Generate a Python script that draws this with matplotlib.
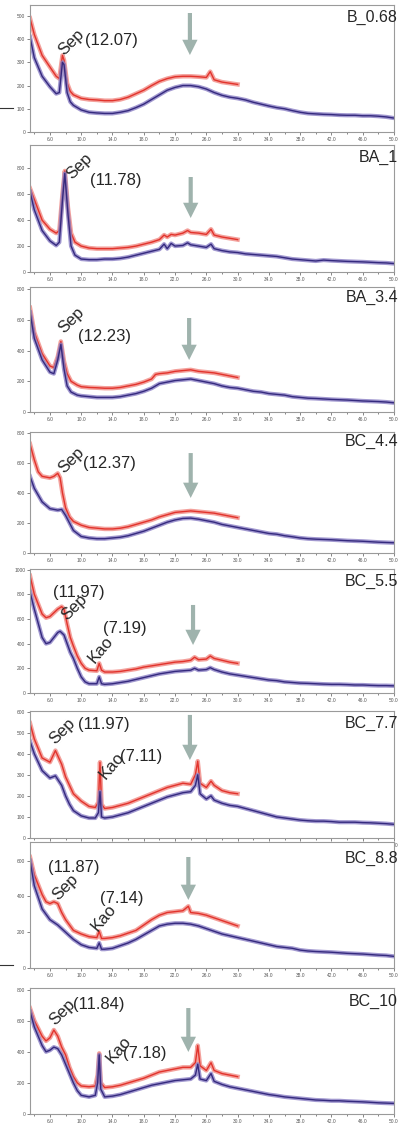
import matplotlib
matplotlib.use('Agg')
import matplotlib.pyplot as plt
from matplotlib.lines import Line2D

plt.rcParams['font.family'] = ['Liberation Sans', 'DejaVu Sans']

# ------------------------------------------------------------------
# data (2theta in degrees, counts)
# ------------------------------------------------------------------
names = ['B_0.68', 'BA_1', 'BA_3.4', 'BC_4.4', 'BC_5.5', 'BC_7.7', 'BC_8.8', 'BC_10']

# B_0.68
p1_red_x = [3.45, 4, 5, 6, 6.8, 7.2, 7.6, 7.8, 8.2, 8.6, 9, 10, 11, 12, 13, 14, 15, 16, 17, 18, 19, 20,
            21, 22, 23, 24, 25, 26, 26.5, 27, 28, 29, 30]
p1_red_y = [490, 420, 330, 280, 240, 230, 330, 310, 210, 175, 160, 145, 140, 138, 135, 135, 140, 150, 165,
            180, 200, 218, 230, 238, 240, 240, 238, 235, 260, 225, 215, 210, 205]
p1_blue_x = [3.45, 4, 5, 6, 6.8, 7.2, 7.6, 7.8, 8.2, 8.6, 9, 10, 11, 12, 13, 14, 15, 16, 17, 18, 19, 20,
             21, 22, 23, 24, 25, 26, 27, 28, 29, 30, 31, 32, 33, 34, 35, 36, 37, 38, 39, 40, 41, 42, 43,
             44, 45, 46, 47, 48, 49, 50]
p1_blue_y = [410, 320, 240, 195, 165, 170, 300, 290, 170, 130, 115, 95, 85, 82, 80, 80, 85, 92, 105, 120,
             140, 160, 180, 192, 200, 200, 195, 185, 170, 158, 150, 145, 138, 128, 120, 112, 105, 100, 92,
             85, 80, 78, 76, 75, 73, 72, 72, 70, 70, 68, 65, 60]

# BA_1
p2_red_x = [3.45, 4, 5, 6, 6.8, 7.2, 7.6, 7.9, 8.3, 8.7, 9.2, 10, 11, 12, 13, 14, 15, 16, 17, 18, 19, 20,
            20.6, 21, 21.5, 22, 23, 23.6, 24, 25, 26, 26.6, 27, 28, 29, 30]
p2_red_y = [645, 560, 400, 330, 300, 320, 600, 780, 500, 300, 230, 200, 185, 180, 180, 180, 185, 190, 200,
            215, 230, 250, 285, 270, 290, 285, 300, 320, 305, 300, 290, 330, 285, 270, 260, 250]
p2_blue_x = [3.45, 4, 5, 6, 6.8, 7.2, 7.6, 7.9, 8.3, 8.7, 9.2, 10, 11, 12, 13, 14, 15, 16, 17, 18, 19, 20,
             20.6, 21, 21.5, 22, 23, 23.6, 24, 25, 26, 26.6, 27, 28, 29, 30, 31, 32, 33, 34, 35, 36, 37,
             38, 39, 40, 41, 42, 43, 44, 45, 46, 47, 48, 49, 50]
p2_blue_y = [620, 480, 320, 240, 205, 230, 550, 760, 450, 200, 130, 100, 95, 95, 100, 100, 105, 115, 130,
             145, 160, 175, 215, 180, 220, 200, 205, 225, 210, 200, 190, 215, 180, 165, 155, 150, 140, 135,
             130, 125, 120, 110, 100, 95, 90, 85, 92, 88, 85, 82, 80, 78, 75, 72, 70, 65]

# BA_3.4
p3_red_x = [3.45, 4, 5, 6, 6.5, 7, 7.4, 7.8, 8.2, 8.7, 9.5, 10, 11, 12, 13, 14, 15, 16, 17, 18, 19, 19.5,
            20, 21, 22, 23, 24, 25, 26, 27, 28, 29, 30]
p3_red_y = [680, 520, 380, 300, 290, 360, 460, 330, 250, 200, 175, 165, 160, 158, 155, 155, 160, 170, 180,
            195, 215, 245, 250, 255, 265, 270, 275, 265, 260, 255, 245, 235, 225]
p3_blue_x = [3.45, 4, 5, 6, 6.5, 7, 7.4, 7.8, 8.2, 8.7, 9.5, 10, 11, 12, 13, 14, 15, 16, 17, 18, 19, 20,
             21, 22, 23, 24, 25, 26, 27, 28, 29, 30, 31, 32, 33, 34, 35, 36, 37, 38, 39, 40, 41, 42, 43,
             44, 45, 46, 47, 48, 49, 50]
p3_blue_y = [650, 480, 340, 260, 250, 340, 440, 280, 170, 130, 110, 105, 100, 95, 95, 95, 100, 110, 120,
             135, 155, 185, 195, 205, 210, 215, 205, 195, 185, 170, 160, 155, 145, 135, 130, 120, 115, 110,
             100, 95, 90, 88, 85, 82, 80, 78, 75, 72, 70, 68, 65, 60]

# BC_4.4
p4_red_x = [3.45, 4, 4.5, 5, 6, 6.5, 7, 7.3, 7.6, 8, 8.5, 9, 10, 11, 12, 13, 14, 15, 16, 17, 18, 19, 20,
            21, 22, 23, 24, 25, 26, 27, 28, 29, 30]
p4_red_y = [725, 620, 540, 510, 500, 510, 530, 500, 400, 300, 240, 210, 185, 170, 165, 160, 160, 165, 175,
            190, 205, 220, 240, 255, 270, 275, 280, 275, 270, 265, 255, 245, 235]
p4_blue_x = [3.45, 4, 5, 6, 7, 7.5, 8, 8.5, 9, 10, 11, 12, 13, 14, 15, 16, 17, 18, 19, 20, 21, 22, 23, 24,
             25, 26, 27, 28, 29, 30, 31, 32, 33, 34, 35, 36, 37, 38, 39, 40, 41, 42, 43, 44, 45, 46, 47,
             48, 49, 50]
p4_blue_y = [510, 430, 340, 295, 285, 290, 250, 200, 150, 110, 100, 95, 95, 100, 105, 115, 130, 145, 165,
             185, 205, 220, 230, 232, 225, 215, 205, 190, 180, 170, 160, 150, 140, 130, 125, 115, 108, 100,
             95, 92, 90, 88, 85, 82, 80, 78, 75, 72, 70, 68]

# BC_5.5
p5_red_x = [3.45, 4, 5, 5.5, 6, 6.5, 7, 7.5, 7.8, 8.2, 8.6, 9, 9.5, 10, 10.5, 11, 12, 12.3, 12.6, 13, 14,
            15, 16, 17, 18, 19, 20, 21, 22, 23, 24, 24.5, 25, 26, 26.5, 27, 28, 29, 30]
p5_red_y = [950, 800, 640, 610, 620, 650, 680, 700, 680, 560, 450, 380, 300, 240, 200, 185, 180, 240, 185,
            170, 170, 175, 185, 195, 210, 220, 230, 240, 250, 255, 265, 290, 270, 275, 300, 280, 265, 250,
            240]
p5_blue_x = [3.45, 4, 5, 5.5, 6, 6.5, 7, 7.3, 7.8, 8.2, 8.6, 9, 9.5, 10, 10.5, 11, 12, 12.3, 12.6, 13, 14,
             15, 16, 17, 18, 19, 20, 21, 22, 23, 24, 24.5, 25, 26, 26.5, 27, 28, 29, 30, 31, 32, 33, 34,
             35, 36, 37, 38, 39, 40, 41, 42, 43, 44, 45, 46, 47, 48, 49, 50]
p5_blue_y = [820, 680, 450, 400, 410, 450, 490, 500, 470, 400, 330, 280, 200, 130, 90, 75, 75, 130, 75, 70,
             75, 85, 95, 110, 125, 140, 155, 165, 175, 180, 185, 200, 185, 190, 205, 190, 170, 155, 145,
             135, 125, 115, 105, 100, 90, 85, 80, 78, 75, 72, 70, 70, 68, 65, 65, 62, 60, 60, 58]

# BC_7.7
p6_red_x = [3.45, 4, 5, 6, 6.7, 7.5, 8, 8.5, 9, 10, 11, 11.8, 12.2, 12.4, 12.6, 13, 14, 15, 16, 17, 18,
            19, 20, 21, 22, 23, 24, 24.6, 24.9, 25.2, 26, 26.6, 27, 28, 29, 30]
p6_red_y = [545, 470, 380, 360, 415, 350, 290, 250, 210, 175, 150, 145, 170, 360, 160, 140, 145, 155, 165,
            180, 195, 210, 225, 240, 250, 260, 255, 300, 365, 260, 240, 270, 250, 225, 215, 210]
p6_blue_x = [3.45, 4, 5, 6, 6.7, 7.5, 8, 8.5, 9, 10, 11, 11.8, 12.2, 12.4, 12.6, 13, 14, 15, 16, 17, 18,
             19, 20, 21, 22, 23, 24, 24.6, 24.9, 25.2, 26, 26.6, 27, 28, 29, 30, 31, 32, 33, 34, 35, 36,
             37, 38, 39, 40, 41, 42, 43, 44, 45, 46, 47, 48, 49, 50]
p6_blue_y = [460, 400, 320, 285, 295, 250, 200, 160, 130, 105, 95, 95, 120, 220, 100, 95, 100, 110, 120,
             135, 150, 165, 180, 195, 205, 215, 220, 250, 300, 210, 185, 200, 180, 165, 155, 150, 140, 130,
             120, 110, 100, 95, 90, 85, 82, 80, 80, 78, 75, 75, 75, 73, 72, 70, 68, 65]

# BC_8.8
p7_red_x = [3.45, 4, 5, 5.5, 6, 6.5, 7, 7.5, 8, 8.5, 9, 10, 11, 12, 12.3, 12.6, 13, 14, 15, 16, 17, 18,
            19, 20, 21, 22, 23, 23.7, 24, 25, 26, 27, 28, 29, 30]
p7_red_y = [620, 520, 410, 370, 360, 370, 360, 310, 270, 240, 210, 190, 175, 170, 205, 165, 165, 170, 180,
            195, 210, 240, 270, 295, 310, 315, 320, 345, 310, 305, 295, 280, 265, 250, 235]
p7_blue_x = [3.45, 4, 5, 6, 7, 8, 9, 10, 11, 12, 12.3, 12.6, 13, 14, 15, 16, 17, 18, 19, 20, 21, 22, 23,
             24, 25, 26, 27, 28, 29, 30, 31, 32, 33, 34, 35, 36, 37, 38, 39, 40, 41, 42, 43, 44, 45, 46,
             47, 48, 49, 50]
p7_blue_y = [600, 460, 330, 270, 240, 200, 160, 130, 115, 110, 140, 105, 105, 110, 125, 140, 160, 185, 210,
             235, 245, 250, 250, 245, 235, 220, 205, 190, 180, 170, 160, 150, 140, 130, 120, 115, 110, 100,
             95, 92, 90, 88, 85, 82, 80, 78, 75, 72, 70, 65]

# BC_10
p8_red_x = [3.45, 4, 5, 5.5, 6, 6.5, 7, 7.5, 8, 8.5, 9, 9.5, 10, 11, 11.8, 12.1, 12.3, 12.5, 13, 14, 15,
            16, 17, 18, 19, 20, 21, 22, 23, 24, 24.6, 24.9, 25.2, 26, 26.6, 27, 28, 29, 30]
p8_red_y = [680, 600, 500, 470, 490, 540, 500, 430, 380, 300, 240, 200, 180, 175, 180, 250, 390, 200, 170,
            175, 185, 200, 215, 230, 250, 270, 280, 290, 300, 300, 330, 440, 310, 280, 330, 280, 260, 250,
            240]
p8_blue_x = [3.45, 4, 5, 5.5, 6, 6.5, 7, 7.5, 8, 8.5, 9, 9.5, 10, 11, 11.8, 12.1, 12.3, 12.5, 13, 14, 15,
             16, 17, 18, 19, 20, 21, 22, 23, 24, 24.6, 24.9, 25.2, 26, 26.6, 27, 28, 29, 30, 31, 32, 33,
             34, 35, 36, 37, 38, 39, 40, 41, 42, 43, 44, 45, 46, 47, 48, 49, 50]
p8_blue_y = [660, 560, 440, 400, 410, 430, 420, 380, 320, 260, 200, 150, 120, 110, 120, 200, 380, 160, 110,
             115, 125, 140, 155, 170, 185, 195, 205, 215, 220, 225, 250, 320, 225, 215, 260, 210, 190, 175,
             165, 155, 145, 135, 125, 118, 110, 105, 100, 95, 90, 88, 85, 85, 82, 80, 78, 75, 72, 70, 68]

red_x = [p1_red_x, p2_red_x, p3_red_x, p4_red_x, p5_red_x, p6_red_x, p7_red_x, p8_red_x]
red_y = [p1_red_y, p2_red_y, p3_red_y, p4_red_y, p5_red_y, p6_red_y, p7_red_y, p8_red_y]
blue_x = [p1_blue_x, p2_blue_x, p3_blue_x, p4_blue_x, p5_blue_x, p6_blue_x, p7_blue_x, p8_blue_x]
blue_y = [p1_blue_y, p2_blue_y, p3_blue_y, p4_blue_y, p5_blue_y, p6_blue_y, p7_blue_y, p8_blue_y]

# y axis range and tick step per panel
y_max = [547, 980, 815, 805, 1005, 603, 704, 810]
y_step = [100, 200, 200, 200, 200, 100, 200, 200]

# arrow x (2theta)
arrow_x = [23.9, 24.0, 23.8, 24.0, 24.3, 23.9, 23.7, 23.7]

# d-spacings written next to the peaks
sep_d = ['(12.07)', '(11.78)', '(12.23)', '(12.37)', '(11.97)', '(11.97)', '(11.87)', '(11.84)']
kao_d = [None, None, None, None, '(7.19)', '(7.11)', '(7.14)', '(7.18)']

# ------------------------------------------------------------------
# layout (pixel boxes of each panel in the 409x1126 picture)
# ------------------------------------------------------------------
W, H = 409, 1126
boxes = [(5, 132), (145, 272), (287, 412), (432, 553), (569, 693), (711, 838), (842, 968), (988, 1114)]
arrow_fy = [(0.937, 0.606), (0.748, 0.425), (0.752, 0.416), (0.826, 0.455),
            (0.710, 0.387), (0.969, 0.614), (0.881, 0.540), (0.841, 0.492)]
name_fy = [0.90, 0.905, 0.92, 0.92, 0.90, 0.905, 0.87, 0.89]
sep_pos = [(0.115, 0.71), (0.135, 0.83), (0.115, 0.73), (0.113, 0.77),
           (0.121, 0.69), (0.090, 0.84), (0.096, 0.64), (0.088, 0.81)]
sepd_pos = [(0.151, 0.72), (0.165, 0.72), (0.132, 0.60), (0.146, 0.74),
            (0.063, 0.81), (0.132, 0.895), (0.050, 0.80), (0.118, 0.87)]
kao_pos = [None, None, None, None, (0.195, 0.35), (0.225, 0.57), (0.203, 0.40), (0.245, 0.51)]
kaod_pos = [None, None, None, None, (0.200, 0.52), (0.247, 0.645), (0.192, 0.55), (0.256, 0.48)]

red_c = '#e2332c'
blue_c = '#352a7e'
arrow_c = '#9fb3ad'
frame_c = '#9a9a9a'
txt_c = '#262626'

fig = plt.figure(figsize=(W / 100, H / 100), dpi=100)

for i in range(8):
    top, bot = boxes[i]
    ax = fig.add_axes([30 / W, (H - bot) / H, 364 / W, (bot - top) / H])

    # noisy band look: light wide line under a thin core
    ax.plot(red_x[i], red_y[i], color='#f08a84', lw=3.2, alpha=0.8, solid_joinstyle='round')
    ax.plot(red_x[i], red_y[i], color=red_c, lw=1.0)
    ax.plot(blue_x[i], blue_y[i], color='#8a7fc4', lw=3.0, alpha=0.8, solid_joinstyle='round')
    ax.plot(blue_x[i], blue_y[i], color=blue_c, lw=1.0)

    ax.set_xlim(3.45, 50)
    ax.set_ylim(0, y_max[i])
    ax.set_xticks([6, 10, 14, 18, 22, 26, 30, 34, 38, 42, 46, 50])
    ax.set_xticklabels(['%.1f' % v for v in [6, 10, 14, 18, 22, 26, 30, 34, 38, 42, 46, 50]])
    ax.set_xticks([4, 8, 12, 16, 20, 24, 28, 32, 36, 40, 44, 48], minor=True)
    yt = list(range(0, y_max[i] + 1, y_step[i]))
    ax.set_yticks(yt)
    ax.set_yticklabels([str(v) for v in yt])
    ax.tick_params(which='both', labelsize=3.5, colors='#555555', length=2, width=0.5, pad=1.5)
    ax.tick_params(which='minor', length=1.5)
    for s in ax.spines.values():
        s.set_color(frame_c)
        s.set_linewidth(0.8)

    # sample name
    ax.text(1.011, name_fy[i], names[i], transform=ax.transAxes, ha='right', va='center',
            fontsize=11.5, color=txt_c)

    # sepiolite label
    ax.text(sep_pos[i][0], sep_pos[i][1], 'Sep', transform=ax.transAxes, rotation=45,
            ha='center', va='center', fontsize=12, color=txt_c)
    ax.text(sepd_pos[i][0], sepd_pos[i][1], sep_d[i], transform=ax.transAxes,
            ha='left', va='center', fontsize=12, color=txt_c)
    if kao_d[i] is not None:
        ax.text(kao_pos[i][0], kao_pos[i][1], 'Kao', transform=ax.transAxes, rotation=50,
                ha='center', va='center', fontsize=12, color=txt_c)
        ax.text(kaod_pos[i][0], kaod_pos[i][1], kao_d[i], transform=ax.transAxes,
                ha='left', va='center', fontsize=12, color=txt_c)

    # grey arrow pointing to the amorphous hump
    ax.annotate('', xy=(arrow_x[i], arrow_fy[i][1]), xytext=(arrow_x[i], arrow_fy[i][0]),
                xycoords=('data', 'axes fraction'), textcoords=('data', 'axes fraction'),
                arrowprops=dict(width=3, headwidth=11, headlength=11, color=arrow_c, lw=0))

# small leftover marks at the left edge of the scan
fig.add_artist(Line2D([0, 13 / W], [(H - 108) / H, (H - 108) / H], color='#333333', lw=0.8))
fig.add_artist(Line2D([0, 13 / W], [(H - 965) / H, (H - 965) / H], color='#333333', lw=0.8))

fig.savefig('out.png', dpi=100)
plt.close('all')
